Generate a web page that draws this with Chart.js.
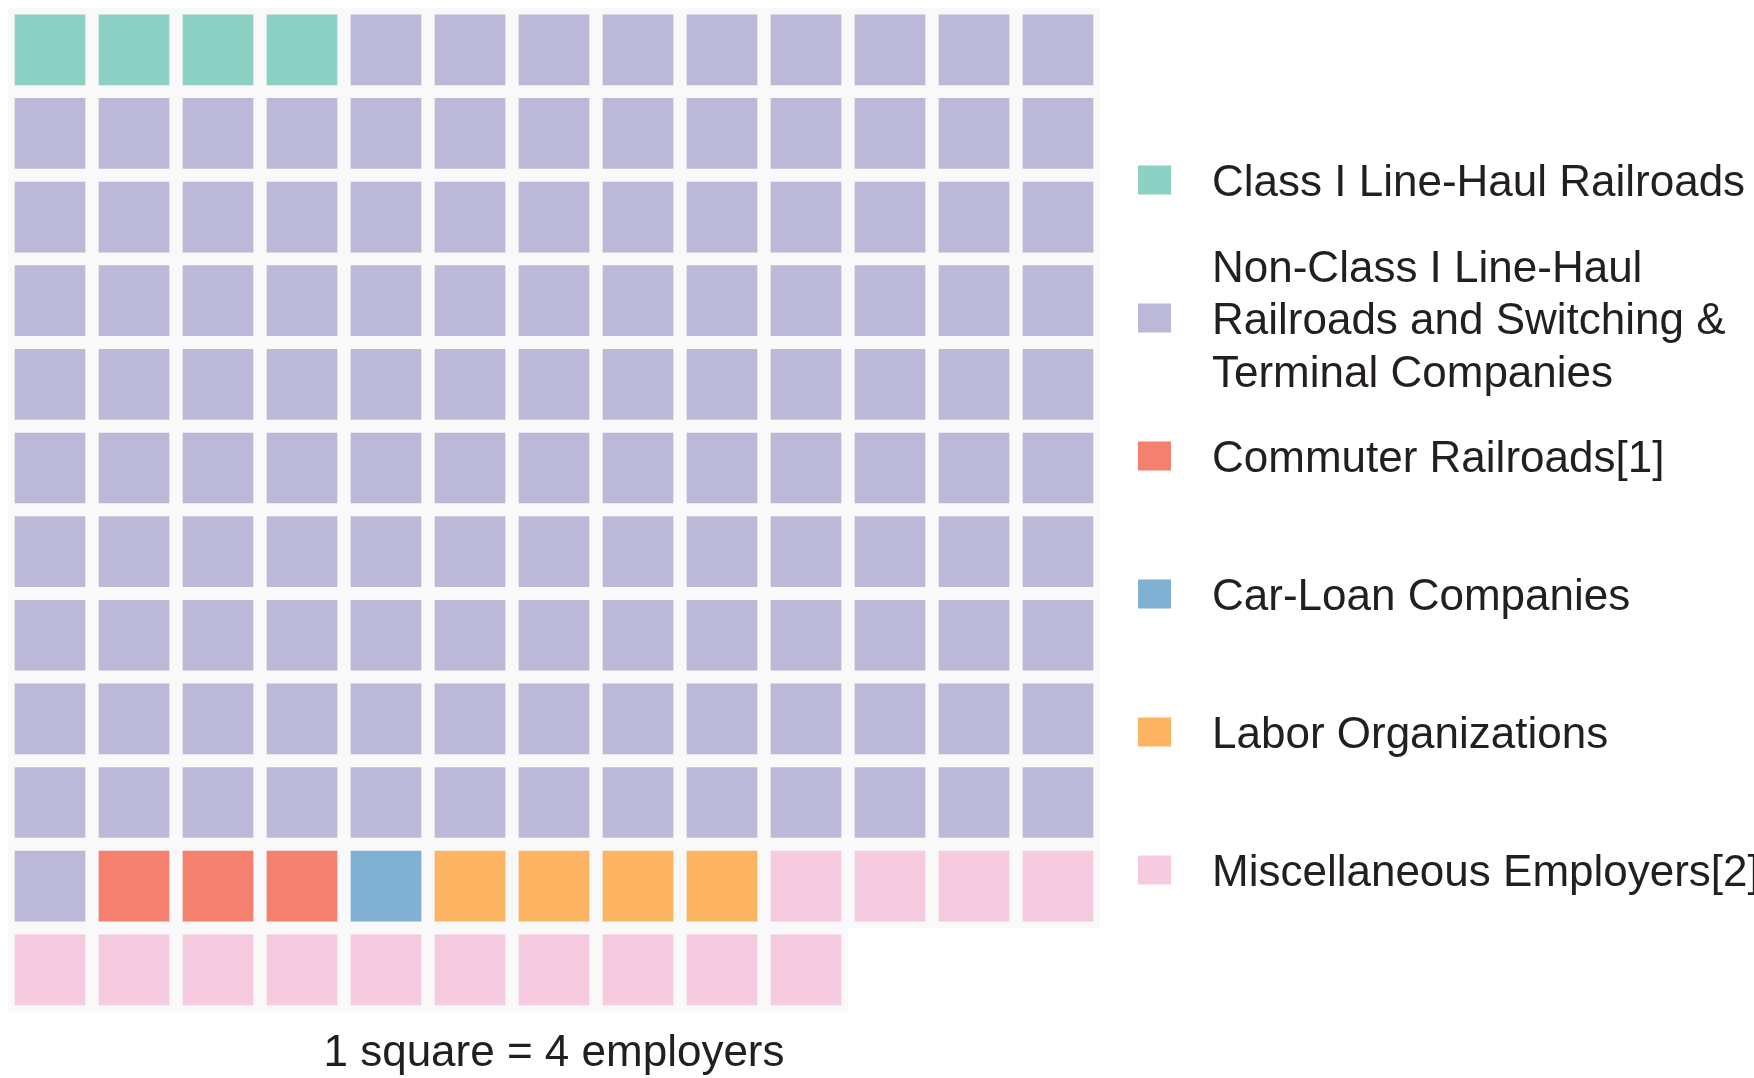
<!DOCTYPE html>
<html>
<head>
<meta charset="utf-8">
<script src="https://cdn.jsdelivr.net/npm/chart.js@4.4.1/dist/chart.umd.min.js"></script>
<style>
  body { margin: 0; background: #fff; }
  #wrap { width: 1754px; height: 1078px; }
</style>
</head>
<body>
<div id="wrap"><canvas id="waffle" width="1754" height="1078"></canvas></div>
<script>
// waffle data: 1 square = 4 employers
const categories = [
    'Class I Line-Haul Railroads',
    'Non-Class I Line-Haul Railroads and Switching & Terminal Companies',
    'Commuter Railroads[1]',
    'Car-Loan Companies',
    'Labor Organizations',
    'Miscellaneous Employers[2]'
];
const squares = [4, 127, 3, 1, 4, 14];
const legendLines = [
    ['Class I Line-Haul Railroads'],
    ['Non-Class I Line-Haul', 'Railroads and Switching &', 'Terminal Companies'],
    ['Commuter Railroads[1]'],
    ['Car-Loan Companies'],
    ['Labor Organizations'],
    ['Miscellaneous Employers[2]']
];
const colours = ['#8dd1c4', '#bcb8d8', '#f58070', '#80b1d3', '#fcb462', '#f7cbdf'];
const columns = 13;
const footnote = '1 square = 4 employers';

// fill the grid row by row
var cellIndex = 0;
const datasets = categories.map(function (cat, i) {
    var pts = [];
    for (var k = 0; k < squares[i]; k++) {
        pts.push({ x: cellIndex % columns, y: Math.floor(cellIndex / columns) });
        cellIndex++;
    }
    return {
        label: cat,
        data: pts,
        pointStyle: 'rect',
        pointRadius: 50,
        pointHoverRadius: 50,
        pointBorderWidth: 0,
        pointHoverBorderWidth: 0,
        backgroundColor: colours[i],
        borderColor: colours[i]
    };
});
const rows = Math.ceil(cellIndex / columns);

// light grey pad behind every square
const cellBackground = {
    id: 'cellBackground',
    beforeDatasetsDraw(chart) {
        const ctx = chart.ctx;
        const xs = chart.scales.x, ys = chart.scales.y;
        const w = Math.abs(xs.getPixelForValue(1) - xs.getPixelForValue(0));
        const h = Math.abs(ys.getPixelForValue(1) - ys.getPixelForValue(0));
        ctx.save();
        ctx.fillStyle = '#f9f9f9';
        chart.data.datasets.forEach(ds => {
            ds.data.forEach(p => {
                const px = xs.getPixelForValue(p.x), py = ys.getPixelForValue(p.y);
                ctx.fillRect(px - w / 2, py - h / 2, w, h);
            });
        });
        ctx.restore();
    }
};

// legend on the right, drawn by hand because of the wrapped label
const sideLegend = {
    id: 'sideLegend',
    afterDraw(chart) {
        const ctx = chart.ctx;
        const left = 1138, textX = 1212;
        const top = 180, step = 138, lineH = 52.5;
        ctx.save();
        ctx.font = '44px "Liberation Sans", Arial, sans-serif';
        ctx.textBaseline = 'middle';
        ctx.textAlign = 'left';
        legendLines.forEach((lines, i) => {
            const cy = top + i * step;
            ctx.fillStyle = colours[i];
            ctx.fillRect(left, cy - 14.5, 33, 29);
            ctx.fillStyle = '#231f20';
            const start = cy + 4 - (lines.length - 1) * lineH / 2;
            lines.forEach((t, j) => ctx.fillText(t, textX, start + j * lineH));
        });
        ctx.restore();
    }
};

new Chart(document.getElementById('waffle').getContext('2d'), {
    type: 'scatter',
    data: { datasets: datasets },
    options: {
        responsive: false,
        animation: false,
        layout: { autoPadding: false, padding: { left: 8, top: 8, right: 654, bottom: 0 } },
        plugins: {
            legend: { display: false },
            tooltip: { enabled: false },
            title: {
                display: true,
                position: 'bottom',
                text: footnote,
                color: '#231f20',
                font: { family: '"Liberation Sans", Arial, sans-serif', size: 44, weight: 'normal', lineHeight: 1.1 },
                padding: { top: 18, bottom: 0 }
            }
        },
        scales: {
            x: { display: false, min: -0.5, max: columns - 0.5 },
            y: { display: false, reverse: true, min: -0.5, max: rows - 0.5 }
        }
    },
    plugins: [cellBackground, sideLegend]
});
</script>
</body>
</html>
